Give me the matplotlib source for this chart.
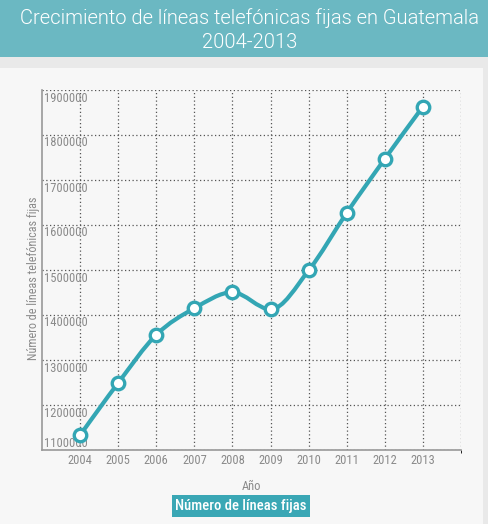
import matplotlib
matplotlib.use("Agg")
import matplotlib.pyplot as plt
from matplotlib import font_manager
from matplotlib.path import Path
from matplotlib.patches import PathPatch, Rectangle
from matplotlib.ticker import FixedLocator, NullFormatter

years = [2004, 2005, 2006, 2007, 2008, 2009, 2010, 2011, 2012, 2013]
lines_fixed = [1133000, 1249000, 1356000, 1415000, 1450500, 1412500,
               1499000, 1627000, 1747000, 1863000]
y_ticks = [1100000, 1200000, 1300000, 1400000, 1500000, 1600000,
           1700000, 1800000, 1900000]
title = "Crecimiento de líneas telefónicas fijas en Guatemala\n2004-2013"
x_title = "Año"
y_title = "Número de líneas telefónicas fijas"
series_name = "Número de líneas fijas"

installed = {f.name for f in font_manager.fontManager.ttflist}
narrow_name = next((n for n in ["Roboto Condensed", "Liberation Sans Narrow",
                                "Open Sans Condensed", "Noto Sans Condensed"]
                    if n in installed), None)
HAS_NARROW = narrow_name is not None
narrow = [narrow_name or "Liberation Sans", "DejaVu Sans"]

W, H = 488, 524
fig = plt.figure(figsize=(W / 100, H / 100), dpi=100)
fig.patch.set_facecolor("#e9e9e9")

def px(x0, y0, w, h):
    return [x0 / W, 1 - (y0 + h) / H, w / W, h / H]

bg = fig.add_axes([0, 0, 1, 1], zorder=-10)
bg.set_xlim(0, W); bg.set_ylim(H, 0); bg.axis("off")
bg.add_patch(Rectangle((0, 0), W, 57, color="#6bb8c2", lw=0))
bg.add_patch(Rectangle((0, 57), W, 11, color="#e9e9e9", lw=0))
bg.add_patch(Rectangle((0, 68), 483, H - 68, color="#f7f7f7", lw=0))

fig.text(250 / W, 1 - 30 / H, title, ha="center", va="center", color="white",
         fontsize=14.5, family=["Roboto", "DejaVu Sans"], fontweight=300,
         linespacing=1.3)

tick_fs = 9.0 if HAS_NARROW else 7.8
grey = "#8a8a8a"
ax = fig.add_axes(px(42, 90, 419, 360))
ax.set_facecolor("none")
ax.set_xlim(2003, 2014)
ax.set_ylim(1100000, 1900000)

ax.xaxis.set_major_locator(FixedLocator(years))
ax.xaxis.set_minor_locator(FixedLocator([2014]))
ax.yaxis.set_major_locator(FixedLocator(y_ticks))
ax.set_xticklabels([str(y) for y in years], fontsize=tick_fs, color=grey,
                   family=narrow)
ax.yaxis.set_major_formatter(NullFormatter())
ax.tick_params(axis="both", length=0, pad=3)
ax.grid(True, which="both", color="#555555", linestyle=(0, (1, 2)), lw=0.9)
for s in ["top", "right"]:
    ax.spines[s].set_visible(False)
for s in ["left", "bottom"]:
    ax.spines[s].set_color("#999999")
    ax.spines[s].set_linewidth(1.2)

for v in y_ticks:
    off = 7 if v == y_ticks[0] else -8
    ax.annotate(str(v), (2003, v), xytext=(2, off), textcoords="offset pixels",
                ha="left", va="center", fontsize=tick_fs, color=grey,
                family=narrow)

ax.set_xlabel(x_title, fontsize=tick_fs, color=grey, family=narrow,
              labelpad=9)
ax.set_ylabel(y_title, fontsize=tick_fs - 0.3, color=grey, family=narrow)
ax.yaxis.set_label_coords(-2 / 419, 1 - (278 - 90) / 360)

# monotone-x cubic curve through the data points
def monotone_path(xs, ys):
    n = len(xs)
    sl = [(ys[i + 1] - ys[i]) / (xs[i + 1] - xs[i]) for i in range(n - 1)]
    t = [0.0] * n
    for i in range(1, n - 1):
        h0 = xs[i] - xs[i - 1]; h1 = xs[i + 1] - xs[i]
        s0, s1 = sl[i - 1], sl[i]
        p = (s0 * h1 + s1 * h0) / (h0 + h1)
        sg = (1 if s0 > 0 else -1 if s0 < 0 else 0) + (1 if s1 > 0 else -1 if s1 < 0 else 0)
        t[i] = sg * min(abs(s0), abs(s1), 0.5 * abs(p))
    t[0] = (3 * sl[0] - t[1]) / 2
    t[-1] = (3 * sl[-1] - t[-2]) / 2
    verts = [(xs[0], ys[0])]
    codes = [Path.MOVETO]
    for i in range(n - 1):
        dx = (xs[i + 1] - xs[i]) / 3
        verts += [(xs[i] + dx, ys[i] + dx * t[i]),
                  (xs[i + 1] - dx, ys[i + 1] - dx * t[i + 1]),
                  (xs[i + 1], ys[i + 1])]
        codes += [Path.CURVE4] * 3
    return Path(verts, codes)

teal = "#33a6b4"
ax.add_patch(PathPatch(monotone_path(years, lines_fixed), fill=False,
                       edgecolor=teal, lw=3.0, capstyle="round",
                       joinstyle="round", zorder=3, clip_on=False))
ax.plot(years, lines_fixed, linestyle="none", marker="o", markersize=9,
        markerfacecolor="white", markeredgecolor=teal, markeredgewidth=2.4,
        zorder=4, clip_on=False)

fig.text(241 / W, 1 - 506 / H, series_name, ha="center", va="center",
         color="white", fontsize=10.5 if HAS_NARROW else 9.0, family=narrow,
         fontweight="medium" if HAS_NARROW else "normal",
         bbox=dict(boxstyle="square,pad=0.25", fc="#3aa7b5", ec="none"))

fig.savefig("out.png", dpi=100, facecolor=fig.get_facecolor())
